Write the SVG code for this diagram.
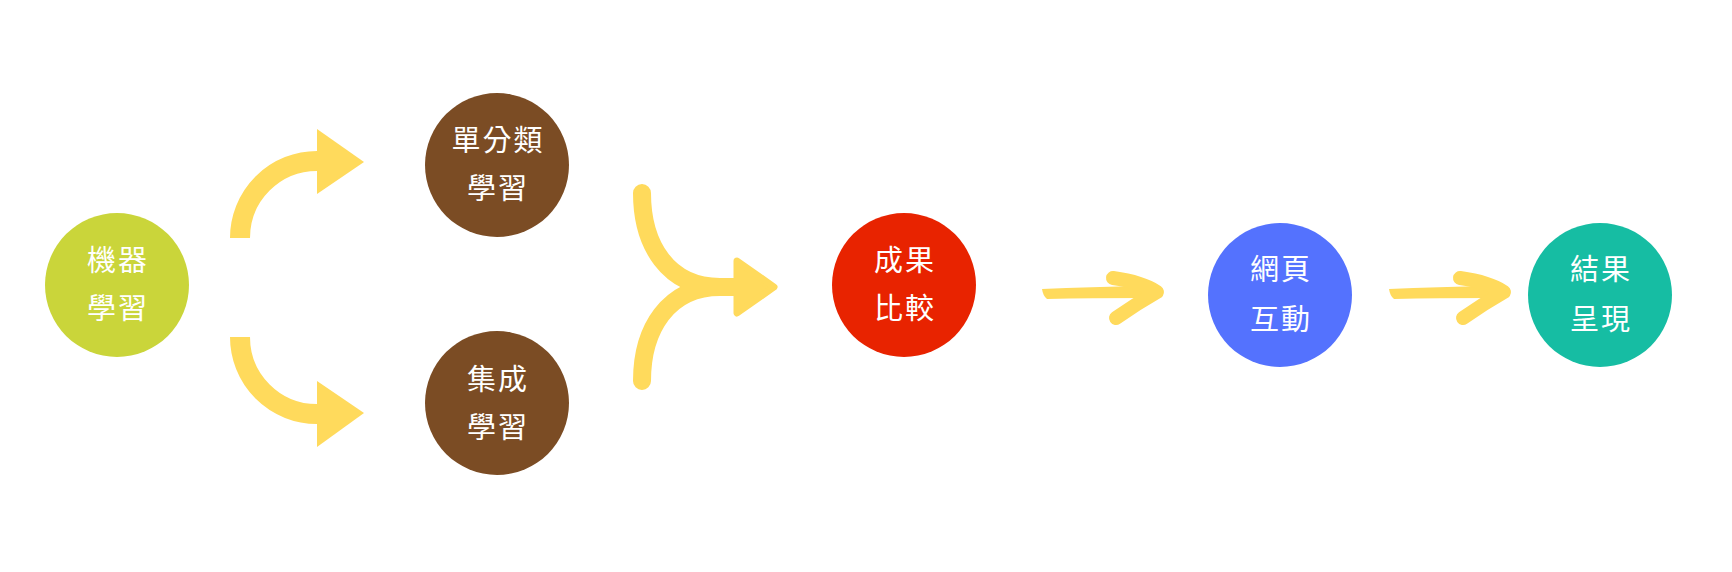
<svg xmlns="http://www.w3.org/2000/svg" width="1732" height="572" viewBox="0 0 1732 572">
<style>
.lbl{font-family:"Noto Sans CJK TC","Noto Sans CJK SC",sans-serif;font-size:29px;letter-spacing:2px;text-anchor:middle;fill:#ffffff}
.y{fill:#FFDA5C}
.ys{fill:none;stroke:#FFDA5C}
</style>
<rect width="1732" height="572" fill="#ffffff"/>
<g id="connectors">
  <g id="c-up">
    <path class="ys" d="M240,238 A77,77 0 0 1 317,161" stroke-width="20"/>
    <polygon class="y" points="317,129 364,162 317,194"/>
  </g>
  <g id="c-down">
    <path class="ys" d="M240,337 A77,77 0 0 0 317,414" stroke-width="20"/>
    <polygon class="y" points="317,381 364,413 317,447"/>
  </g>
  <g id="c-merge">
    <path class="ys" d="M642,193 C642,245 668,287 720,287 L742,287 M642,381 C642,329 668,287 720,287" stroke-width="18" stroke-linecap="round"/>
    <polygon class="y" points="737,261 774,287 737,313" stroke="#FFDA5C" stroke-width="7" stroke-linejoin="round"/>
  </g>
  <g id="c-a1">
    <path class="y" d="M1042,289 Q1090,287 1145,286 L1145,298 Q1090,298 1047,299 Q1043,296 1042,289 Z"/>
    <path class="ys" d="M1113,278 Q1142,282 1157,292 Q1136,304 1116,318" stroke-width="14" stroke-linejoin="round" stroke-linecap="round"/>
  </g>
  <g id="c-a2" transform="translate(347,0)">
    <path class="y" d="M1042,289 Q1090,287 1145,286 L1145,298 Q1090,298 1047,299 Q1043,296 1042,289 Z"/>
    <path class="ys" d="M1113,278 Q1142,282 1157,292 Q1136,304 1116,318" stroke-width="14" stroke-linejoin="round" stroke-linecap="round"/>
  </g>
</g>
<g id="n-ml">
  <circle cx="117" cy="285" r="72" fill="#CAD53A"/>
  <text class="lbl" x="118" y="271">機器</text>
  <text class="lbl" x="118" y="319">學習</text>
</g>
<g id="n-single">
  <circle cx="497" cy="165" r="72" fill="#7B4C24"/>
  <text class="lbl" x="498" y="151">單分類</text>
  <text class="lbl" x="498" y="199">學習</text>
</g>
<g id="n-ensemble">
  <circle cx="497" cy="403" r="72" fill="#7B4C24"/>
  <text class="lbl" x="498" y="390">集成</text>
  <text class="lbl" x="498" y="438">學習</text>
</g>
<g id="n-compare">
  <circle cx="904" cy="285" r="72" fill="#E82300"/>
  <text class="lbl" x="905" y="271">成果</text>
  <text class="lbl" x="905" y="319">比較</text>
</g>
<g id="n-web">
  <circle cx="1280" cy="295" r="72" fill="#5472FE"/>
  <text class="lbl" x="1281" y="280">網頁</text>
  <text class="lbl" x="1281" y="330">互動</text>
</g>
<g id="n-result">
  <circle cx="1600" cy="295" r="72" fill="#16BDA3"/>
  <text class="lbl" x="1601" y="280">結果</text>
  <text class="lbl" x="1601" y="330">呈現</text>
</g>
</svg>
